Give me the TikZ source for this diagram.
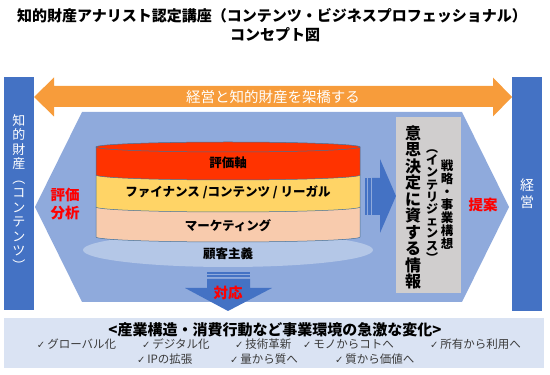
\documentclass[tikz,border=0pt]{standalone}
\usepackage{fontspec}
\setmainfont{Noto Sans CJK JP}
\newfontfamily\dejavu{DejaVu Sans}
\definecolor{barblue}{HTML}{4472C4}
\definecolor{hexblue}{HTML}{8FAADC}
\definecolor{baseblue}{HTML}{B4C7E7}
\definecolor{orangeA}{HTML}{F79C3B}
\definecolor{grayA}{HTML}{D0CECE}
\definecolor{redA}{HTML}{FF3300}
\definecolor{yelA}{HTML}{FFD466}
\definecolor{peachA}{HTML}{F8CBAD}
\definecolor{bandA}{HTML}{DAE3F3}
\definecolor{txtred}{HTML}{FF0000}
\definecolor{lineC}{HTML}{41719C}
\definecolor{chk}{HTML}{3A3A3A}
\tikzset{
  layerline/.style={draw=lineC, line width=0.5pt},
  redlbl/.style={text=txtred, font=\bfseries\fontsize{14.5}{18}\selectfont},
  cyllbl/.style={text=black, font=\bfseries\fontsize{12.5}{15}\selectfont},
  chkitem/.style={anchor=west, text=chk, font=\fontsize{11.5}{13}\selectfont},
}
\newcommand{\ck}{{\dejavu\fontsize{10}{11}\selectfont ✓}\,}
\begin{document}
\begin{tikzpicture}[x=1pt,y=1pt, every node/.style={inner sep=0pt, outer sep=0pt}]
\useasboundingbox (0,0) rectangle (550,375);
% title
\node[font=\bfseries\fontsize{15}{18}\selectfont] (t1) at (272,359) {知的財産アナリスト認定講座（コンテンツ・ビジネスプロフェッショナル）};
\node[font=\bfseries\fontsize{15}{18}\selectfont] (t2) at (275,340) {コンセプト図};
% side bars
\fill[barblue] (4,65) rectangle (34,298);
\fill[barblue] (512,64) rectangle (542,298);
% orange double arrow
\fill[orangeA] (34,278) -- (54,297.5) -- (54,289) -- (493,289) -- (493,297.5) -- (512,278)
  -- (493,258.5) -- (493,268) -- (54,268) -- (54,258.5) -- cycle;
\node[text=white, font=\fontsize{14.5}{17}\selectfont] (bridge) at (273,278) {経営と知的財産を架橋する};
% hexagon arrow
\fill[hexblue] (35,168) -- (82,263) -- (462,263) -- (509,168) -- (462,73) -- (82,73) -- cycle;
% base ellipse
\fill[baseblue] (228,125) ellipse[x radius=145, y radius=17];
% cylinder layers
\fill[peachA] (96,175) -- (96,138) arc[start angle=180, end angle=360, x radius=132, y radius=5] -- (360,175) -- cycle;
\draw[layerline] (96,168) -- (96,138) arc[start angle=180, end angle=360, x radius=132, y radius=5] -- (360,168);
\fill[yelA] (96,205) -- (96,168) arc[start angle=180, end angle=360, x radius=132, y radius=5] -- (360,205) -- cycle;
\draw[layerline] (96,200) -- (96,168) arc[start angle=180, end angle=360, x radius=132, y radius=5] -- (360,200);
\fill[redA] (96,228) -- (96,200) arc[start angle=180, end angle=360, x radius=132, y radius=5] -- (360,228) -- cycle;
\draw[layerline] (96,228) -- (96,200) arc[start angle=180, end angle=360, x radius=132, y radius=5] -- (360,228);
\filldraw[fill=redA, layerline] (228,228) ellipse[x radius=132, y radius=5];
\node[cyllbl] (axis) at (228,212) {評価軸};
\node[cyllbl] (fin) at (228,183) {ファイナンス /コンテンツ / リーガル};
\node[cyllbl] (mkt) at (228,149) {マーケティング};
\node[cyllbl] (cust) at (228,121) {顧客主義};
% left labels
\node[redlbl, align=center, font=\bfseries\fontsize{14.5}{18}\selectfont] (eval) at (65,171) {評価\\分析};
\node[text=white, align=center, font=\fontsize{13}{14.5}\selectfont] (ip) at (19,182.5)
  {知\\的\\財\\産\\︵\\コ\\ン\\テ\\ン\\ツ\\︶};
% middle striped arrow
\fill[barblue] (365,160) rectangle (366.5,197);
\fill[barblue] (368,160) rectangle (370.5,197);
\fill[barblue] (372,160) -- (380,160) -- (380,142) -- (396,179) -- (380,216) -- (380,197) -- (372,197) -- cycle;
% gray box
\fill[grayA] (396,82) rectangle (461,258);
\node[align=center, font=\bfseries\fontsize{16}{16.5}\selectfont] (info) at (413,167.5)
  {意\\思\\決\\定\\に\\資\\す\\る\\情\\報};
\node[align=center, font=\bfseries\fontsize{12}{12.2}\selectfont] (intel) at (432,169)
  {︵\\イ\\ン\\テ\\リ\\ジ\\ェ\\ン\\ス\\︶};
\node[align=center, font=\bfseries\fontsize{12.5}{13}\selectfont] (strat) at (447,170)
  {戦\\略\\・\\事\\業\\構\\想};
% proposal and management
\node[redlbl] (prop) at (483,170) {提案};
\node[text=white, align=center, font=\fontsize{14}{17}\selectfont] (mgmt) at (527,181.5) {経\\営};
% down striped arrow
\fill[barblue] (207,101) rectangle (250,102.5);
\fill[barblue] (207,97.5) rectangle (250,99.5);
\fill[barblue] (207,96) -- (250,96) -- (250,87) -- (272,87) -- (228,64) -- (185,87) -- (207,87) -- cycle;
\node[redlbl] (resp) at (228,82) {対応};
% bottom band
\fill[bandA] (4,7) rectangle (544,57);
\node[font=\bfseries\fontsize{15}{18}\selectfont] (chg) at (275,45) {<産業構造・消費行動など事業環境の急激な変化>};
\node[chkitem] (c1) at (37,31) {\ck グローバル化};
\node[chkitem] (c2) at (142,31) {\ck デジタル化};
\node[chkitem] (c3) at (235,31) {\ck 技術革新};
\node[chkitem] (c4) at (303,31) {\ck モノからコトへ};
\node[chkitem] (c5) at (430,31) {\ck 所有から利用へ};
\node[chkitem] (c6) at (137,16) {\ck IPの拡張};
\node[chkitem] (c7) at (230,16) {\ck 量から質へ};
\node[chkitem] (c8) at (335,16) {\ck 質から価値へ};
\end{tikzpicture}
\end{document}
